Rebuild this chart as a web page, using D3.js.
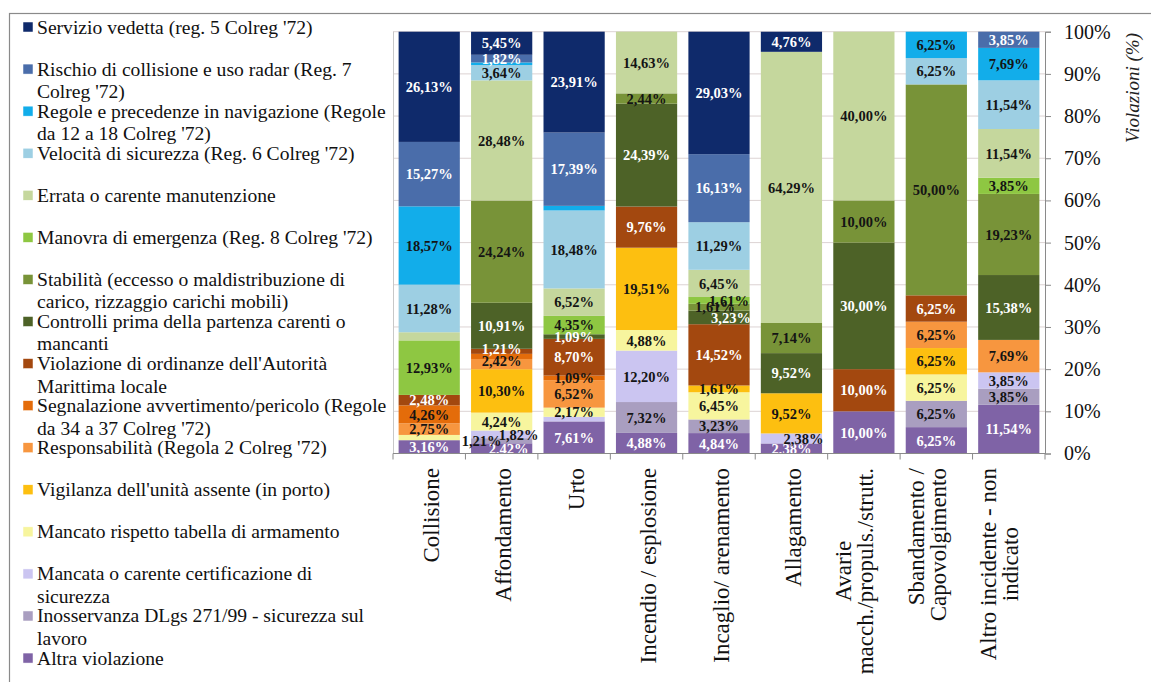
<!DOCTYPE html>
<html>
<head>
<meta charset="utf-8">
<script src="https://cdn.jsdelivr.net/npm/d3@7"></script>
<style>
  body { margin: 0; background: #fff; }
  svg { display: block; }
</style>
</head>
<body>
<svg id="chart" width="1151" height="682"></svg>
<script>
// Incident types (x categories); "\n" marks a line break in the axis label
const categories = [
  "Collisione", "Affondamento", "Urto", "Incendio / esplosione", "Incaglio/ arenamento",
  "Allagamento", "Avarie\nmacch./propuls./strutt.", "Sbandamento /\nCapovolgimento",
  "Altro incidente - non\nindicato"
];

// Violation types, legend order (top of the stack first); "\n" marks a legend line break
const seriesNames = [
  "Servizio vedetta (reg. 5 Colreg '72)",
  "Rischio di collisione e uso radar (Reg. 7\nColreg '72)",
  "Regole e precedenze in navigazione (Regole\nda 12 a 18 Colreg '72)",
  "Velocità di sicurezza (Reg. 6 Colreg '72)",
  "Errata o carente manutenzione",
  "Manovra di emergenza (Reg. 8 Colreg '72)",
  "Stabilità (eccesso o maldistribuzione di\ncarico, rizzaggio carichi mobili)",
  "Controlli prima della partenza carenti o\nmancanti",
  "Violazione di ordinanze dell'Autorità\nMarittima locale",
  "Segnalazione avvertimento/pericolo (Regole\nda 34 a 37 Colreg '72)",
  "Responsabilità (Regola 2 Colreg '72)",
  "Vigilanza dell'unità assente (in porto)",
  "Mancato rispetto tabella di armamento",
  "Mancata o carente certificazione di\nsicurezza",
  "Inosservanza DLgs 271/99 - sicurezza sul\nlavoro",
  "Altra violazione"
];

// Share of violations (%) per incident type, one array per violation type
const servizioVedetta       = [26.13,  5.45, 23.91,  0.00, 29.03,  4.76,  0.00,  0.00,  0.00];
const rischioCollisione     = [15.27,  1.82, 17.39,  0.00, 16.13,  0.00,  0.00,  0.00,  3.85];
const regoleNavigazione     = [18.57,  0.61,  1.09,  0.00,  0.00,  0.00,  0.00,  6.25,  7.69];
const velocitaSicurezza     = [11.28,  3.64, 18.48,  0.00, 11.29,  0.00,  0.00,  6.25, 11.54];
const errataManutenzione    = [ 1.93, 28.48,  6.52, 14.63,  6.45, 64.29, 40.00,  0.00, 11.54];
const manovraEmergenza      = [12.93,  0.00,  4.35,  0.00,  1.61,  0.00,  0.00,  0.00,  3.85];
const stabilita             = [ 0.00, 24.24,  0.00,  2.44,  1.61,  7.14, 10.00, 50.00, 19.23];
const controlliPartenza     = [ 0.00, 10.91,  1.09, 24.39,  3.23,  9.52, 30.00,  0.00, 15.38];
const violazioneOrdinanze   = [ 2.48,  1.21,  8.70,  9.76, 14.52,  0.00, 10.00,  6.25,  0.00];
const segnalazione          = [ 4.26,  1.21,  1.09,  0.00,  0.00,  0.00,  0.00,  0.00,  0.00];
const responsabilita        = [ 2.75,  2.42,  6.52,  0.00,  0.00,  0.00,  0.00,  6.25,  7.69];
const vigilanza             = [ 0.00, 10.30,  0.00, 19.51,  1.61,  9.52,  0.00,  6.25,  0.00];
const mancatoRispetto       = [ 1.24,  4.24,  2.17,  4.88,  6.45,  0.00,  0.00,  6.25,  0.00];
const mancataCertificazione = [ 0.00,  1.82,  1.09, 12.20,  0.00,  2.38,  0.00,  0.00,  3.85];
const inosservanza          = [ 0.00,  1.21,  0.00,  7.32,  3.23,  0.00,  0.00,  6.25,  3.85];
const altraViolazione       = [ 3.16,  2.42,  7.61,  4.88,  4.84,  2.38, 10.00,  6.25, 11.54];

const seriesValues = [
  servizioVedetta, rischioCollisione, regoleNavigazione, velocitaSicurezza,
  errataManutenzione, manovraEmergenza, stabilita, controlliPartenza,
  violazioneOrdinanze, segnalazione, responsabilita, vigilanza,
  mancatoRispetto, mancataCertificazione, inosservanza, altraViolazione
];

// Segments drawn without a value label: [series index, category index]
const unlabeled = [[4, 0], [12, 0], [2, 1], [9, 1], [2, 2], [13, 2]];

// Value axis ticks
const yTicks = [0, 10, 20, 30, 40, 50, 60, 70, 80, 90, 100];

// ---- styling ----
const seriesColors = [
  "#0f2a6b", "#4a6daa", "#12adea", "#9dcfe3", "#c5d79d", "#8ec742", "#789338", "#4d6227",
  "#a3480f", "#e46c0a", "#f7963f", "#fdbf10", "#f7f59e", "#cbc5f1", "#a99ec0", "#7f63a6"
];
const whiteText = new Set([0, 1, 7, 8, 15]);
// small nudges for value labels that would otherwise collide: "series,category" -> [dx, dy]
const labelNudge = {
  "15,1": [7, 0], "14,1": [-20, 0], "13,1": [17, 0],
  "10,1": [0, -3], "8,1": [0, -3],
  "5,4": [10, 0], "6,4": [-4, 0], "7,4": [12, 0],
  "13,5": [12, 0]
};

const SERIF = "'Liberation Serif', serif";
const svg = d3.select("#chart");
const plot = { left: 393, right: 1045, top: 31.7, bottom: 453.5 };

// outer frame
svg.append("rect")
  .attr("x", 9.5).attr("y", 13.5).attr("width", 1160).attr("height", 700)
  .attr("fill", "none").attr("stroke", "#8a8a8a").attr("stroke-width", 1.2);

// scales
const x = d3.scaleBand().domain(categories)
  .range([plot.left, plot.right]).paddingInner(0.155).paddingOuter(0.0775);
const y = d3.scaleLinear().domain([0, 100]).range([plot.bottom, plot.top]);

// gridlines
svg.append("g").selectAll("line").data(yTicks.slice(1)).join("line")
  .attr("x1", plot.left).attr("x2", plot.right)
  .attr("y1", d => y(d)).attr("y2", d => y(d))
  .attr("stroke", "#dcd3d3").attr("stroke-width", 1);

// plot area left edge
svg.append("line")
  .attr("x1", plot.left + 0.5).attr("x2", plot.left + 0.5)
  .attr("y1", plot.top).attr("y2", plot.bottom)
  .attr("stroke", "#c8c8c8");

// stack: bottom of each bar is the last legend entry
const rows = categories.map((c, ci) => {
  const r = { cat: c };
  seriesValues.forEach((vals, si) => { r[si] = vals[ci]; });
  return r;
});
const keys = d3.range(seriesNames.length).reverse();
const stacked = d3.stack().keys(keys)(rows);

const bars = svg.append("g");
stacked.forEach(layer => {
  const si = layer.key;
  bars.append("g").attr("fill", seriesColors[si])
    .selectAll("rect").data(layer).join("rect")
    .attr("x", d => x(d.data.cat))
    .attr("width", x.bandwidth())
    .attr("y", d => y(d[1]))
    .attr("height", d => Math.max(0, y(d[0]) - y(d[1])));
});

// value labels
const hidden = new Set(unlabeled.map(p => p.join(",")));
const fmt = v => v.toFixed(2).replace(".", ",") + "%";
const labels = svg.append("g")
  .style("font-family", SERIF).style("font-weight", "bold").style("font-size", "14.5px")
  .attr("text-anchor", "middle");
stacked.forEach(layer => {
  const si = layer.key;
  layer.forEach((d, ci) => {
    const v = seriesValues[si][ci];
    if (!v || hidden.has(si + "," + ci)) return;
    const n = labelNudge[si + "," + ci] || [0, 0];
    labels.append("text")
      .attr("x", x(d.data.cat) + x.bandwidth() / 2 + n[0])
      .attr("y", (y(d[0]) + y(d[1])) / 2 + n[1])
      .attr("dy", "0.36em")
      .attr("fill", whiteText.has(si) ? "#ffffff" : "#141414")
      .text(fmt(v));
  });
});

// bottom axis line with ticks at category boundaries
const step = x.step();
const boundaries = categories.map(c => x(c) - step * x.paddingInner() / 2)
  .concat([plot.right]);
const xAxis = svg.append("g").attr("stroke", "#8a8a8a");
xAxis.append("line")
  .attr("x1", plot.left).attr("x2", plot.right)
  .attr("y1", plot.bottom).attr("y2", plot.bottom);
xAxis.selectAll("line.tick").data(boundaries).join("line").attr("class", "tick")
  .attr("x1", d => d).attr("x2", d => d)
  .attr("y1", plot.bottom).attr("y2", plot.bottom + 6);

// category labels, rotated
const catG = svg.append("g").style("font-family", SERIF).style("font-size", "23px").attr("fill", "#111");
const centered = new Set([6, 8]);
categories.forEach((c, ci) => {
  const lines = c.split("\n");
  const cx = x(c) + x.bandwidth() / 2;
  const top = 468;
  const g = catG.append("g").attr("transform", `translate(${cx},${top}) rotate(-90)`);
  const texts = lines.map((ln, li) => g.append("text")
    .attr("y", (li - (lines.length - 1)) * 22 + 1.5)
    .attr("dy", "0.35em")
    .text(ln));
  if (centered.has(ci)) {
    const L = d3.max(texts, t => t.node().getComputedTextLength());
    texts.forEach(t => t.attr("text-anchor", "middle").attr("x", -L / 2));
  } else {
    texts.forEach(t => t.attr("text-anchor", "end").attr("x", 0));
  }
});

// right value axis
const yAxis = d3.axisRight(y).tickValues(yTicks).tickFormat(d => d + "%")
  .tickSize(6).tickPadding(13);
const yg = svg.append("g").attr("transform", `translate(${plot.right},0)`).call(yAxis);
yg.select(".domain").attr("stroke", "#8a8a8a");
yg.selectAll(".tick line").attr("stroke", "#8a8a8a");
yg.selectAll(".tick text").style("font-family", SERIF).style("font-size", "20px").attr("fill", "#111");

svg.append("text")
  .attr("transform", `translate(1132,33) rotate(-90)`)
  .attr("text-anchor", "end").attr("dy", "0.35em")
  .style("font-family", SERIF).style("font-style", "italic").style("font-size", "19px")
  .attr("fill", "#222")
  .text("Violazioni (%)");

// legend
const legend = svg.append("g").style("font-family", SERIF).style("font-size", "19.6px").attr("fill", "#111");
seriesNames.forEach((name, i) => {
  const cy = 27 + i * 42.07;
  legend.append("rect")
    .attr("x", 23).attr("y", cy - 5).attr("width", 10).attr("height", 10)
    .attr("fill", seriesColors[i]).attr("stroke", "#ffffff").attr("stroke-width", 0.5);
  name.split("\n").forEach((ln, li) => {
    legend.append("text").attr("x", 37).attr("y", cy + 6.5 + li * 22.5).text(ln);
  });
});
</script>
</body>
</html>
